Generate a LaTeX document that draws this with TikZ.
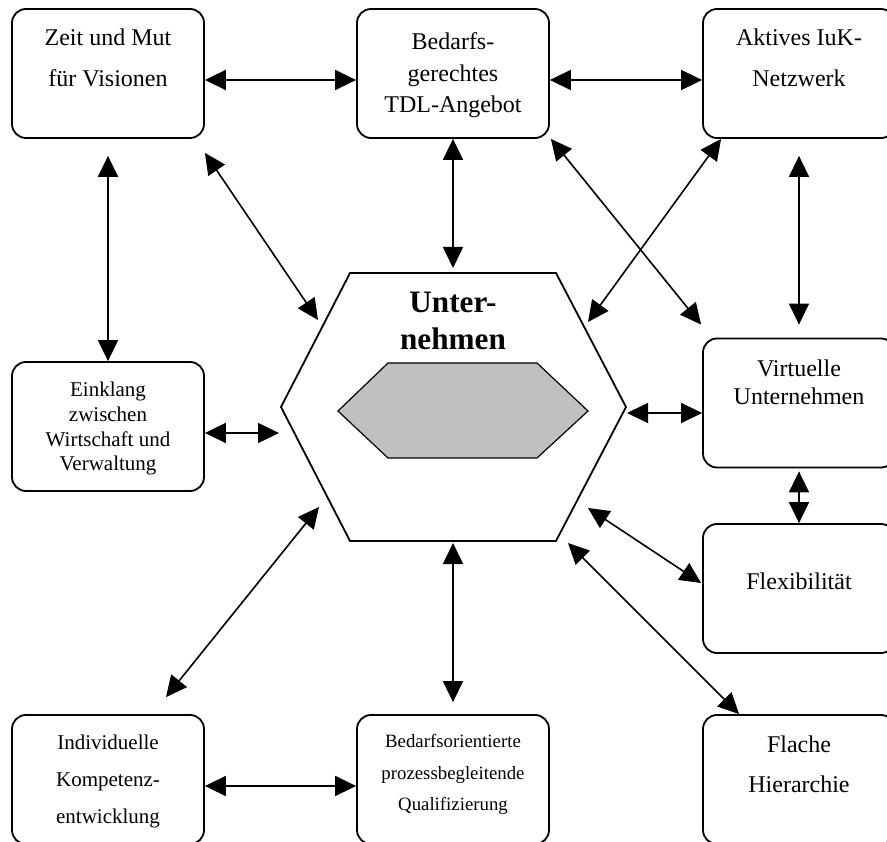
\documentclass[tikz,border=0pt]{standalone}
\usepackage{fontspec}
\setmainfont{Liberation Serif}
\usetikzlibrary{arrows.meta}
\definecolor{innergray}{RGB}{192,192,192}
\begin{document}
\begin{tikzpicture}[x=1pt,y=-1pt,
  box/.style={draw, line width=1.8pt, rounded corners=14pt, minimum width=192pt, minimum height=129pt, inner sep=0pt},
  lbl/.style={align=center, anchor=base, inner sep=0pt},
  conn/.style={line width=1.6pt, {Triangle[length=21pt,width=20pt]}-{Triangle[length=21pt,width=20pt]}},
  hexline/.style={line width=1.8pt, line join=miter},
  corehex/.style={line width=1.2pt, fill=innergray},
]
\useasboundingbox (0,0) rectangle (887,842);

% boxes
\node[box] (b1) at (108,73.5) {};
\node[box] (b2) at (453,73.5) {};
\node[box] (b3) at (799,73.5) {};
\node[box] (b4) at (108,426.5) {};
\node[box] (b5) at (799,403) {};
\node[box] (b6) at (799,588.5) {};
\node[box] (b7) at (108,779.5) {};
\node[box] (b8) at (453,779.5) {};
\node[box] (b9) at (799,779.5) {};

% texts (anchor base = baseline of the last line)
\node[lbl, font=\fontsize{24}{41}\selectfont] (t1) at (108,87) {Zeit und Mut\\für Visionen};
\node[lbl, font=\fontsize{24}{31.5}\selectfont] (t2) at (453,113) {Bedarfs-\\gerechtes\\TDL-Angebot};
\node[lbl, font=\fontsize{24}{41}\selectfont] (t3) at (799,87) {Aktives IuK-\\Netzwerk};
\node[lbl, font=\fontsize{21}{24.7}\selectfont] (t4) at (108,470.7) {Einklang\\zwischen\\Wirtschaft und\\Verwaltung};
\node[lbl, font=\fontsize{24}{28.3}\selectfont] (t5) at (799,405) {Virtuelle\\Unternehmen};
\node[lbl, font=\fontsize{24}{28}\selectfont] (t6) at (799,589) {Flexibilität};
\node[lbl, font=\fontsize{21}{37}\selectfont] (t7) at (108,823.3) {Individuelle\\Kompetenz-\\entwicklung};
\node[lbl, font=\fontsize{18.8}{31.7}\selectfont] (t8) at (453,810.7) {Bedarfsorientierte\\prozessbegleitende\\Qualifizierung};
\node[lbl, font=\fontsize{24}{40.7}\selectfont] (t9) at (799,792.7) {Flache\\Hierarchie};

% central hexagon
\draw[hexline] (350,273) -- (556,273) -- (626,407) -- (556,541) -- (350,541) -- (281,407) -- cycle;
\draw[corehex] (338,411) -- (388,363) -- (537,363) -- (588,411) -- (537,458) -- (388,458) -- cycle;
\node[lbl, font=\bfseries\fontsize{31.2}{36.5}\selectfont] (tu) at (453,349.5) {Unter-\\nehmen};

% connector ends at the hexagon
\coordinate (h1) at (318,320);
\coordinate (h2) at (453,268);
\coordinate (h3) at (588,322);
\coordinate (h4) at (279,433);
\coordinate (h5) at (627,413);
\coordinate (h6) at (588,508);
\coordinate (h7) at (568,543);
\coordinate (h8) at (319,507);
\coordinate (h9) at (453,543);

% connectors
\draw[conn] ([yshift=-6.5pt]b1.east) -- ([yshift=-6.5pt]b2.west);
\draw[conn] ([yshift=-6.5pt]b2.east) -- ([yshift=-6.5pt]b3.west);
\draw[conn] ([yshift=-17pt]b1.south) -- (b4.north);
\draw[conn] ([yshift=-14pt]b1.south east) -- (h1);
\draw[conn] (b2.south) -- (h2);
\draw[conn] ([xshift=1pt]b2.south east) -- ([shift={(-1pt,13pt)}]b5.north west);
\draw[conn] ([xshift=19pt]b3.south west) -- (h3);
\draw[conn] ([yshift=-17pt]b3.south) -- ([yshift=13pt]b5.north);
\draw[conn] ([yshift=-6.5pt]b4.east) -- (h4);
\draw[conn] (h5) -- ([yshift=-10pt]b5.west);
\draw[conn] ([yshift=-3pt]b5.south) -- (b6.north);
\draw[conn] (h6) -- ([shift={(-1pt,5.5pt)}]b6.west);
\draw[conn] (h7) -- ([xshift=37pt]b9.north west);
\draw[conn] (h8) -- ([shift={(58pt,17pt)}]b7.north);
\draw[conn] (h9) -- ([yshift=12pt]b8.north);
\draw[conn] ([yshift=-6.5pt]b7.east) -- ([yshift=-6.5pt]b8.west);
\end{tikzpicture}
\end{document}
